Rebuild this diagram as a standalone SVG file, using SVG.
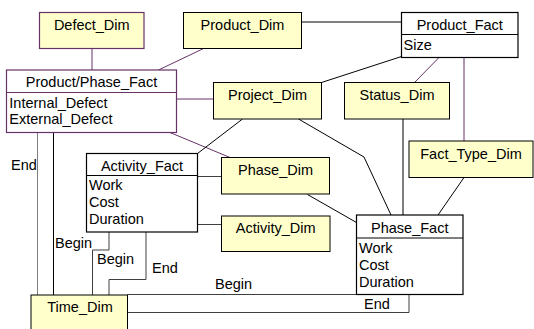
<svg xmlns="http://www.w3.org/2000/svg" width="534" height="329" viewBox="0 0 534 329">
<style>
text{font-family:"Liberation Sans",Arial,sans-serif;font-size:14.5px;fill:#000}
.t{text-anchor:middle}
.dim{fill:#FFFFCC;stroke:#000;stroke-width:1}
.dimp{fill:#FFFFCC;stroke:#663366;stroke-width:1.2}
.fact{fill:#fff;stroke:#000;stroke-width:1.2}
.factp{fill:#fff;stroke:#663366;stroke-width:1.2}
.c{fill:none;stroke:#000;stroke-width:1}
.cg{fill:none;stroke:#808080;stroke-width:1}
.cd{fill:none;stroke:#404040;stroke-width:1}
.cp{fill:none;stroke:#663366;stroke-width:1}
</style>
<rect width="534" height="329" fill="#fff"/>
<g id="connectors">
<line class="cp" x1="92" y1="48.5" x2="92" y2="70"/>
<line class="cp" x1="203.5" y1="48.5" x2="158.5" y2="70"/>
<line class="c" x1="301.5" y1="22" x2="401.5" y2="22"/>
<line class="cp" x1="176.5" y1="99" x2="213.5" y2="99"/>
<line class="cp" x1="170" y1="132.5" x2="230" y2="157.5"/>
<line class="c" x1="242.5" y1="119" x2="197.5" y2="153.5"/>
<line class="c" x1="321.5" y1="82.5" x2="401.5" y2="56.5"/>
<polyline class="c" points="298.5,119 364,157 391,215"/>
<line class="cp" x1="414.5" y1="82.5" x2="439" y2="57.5"/>
<line class="c" x1="403" y1="119" x2="403" y2="215"/>
<line class="cp" x1="464" y1="57.5" x2="464" y2="141"/>
<line class="c" x1="464" y1="177.5" x2="438" y2="215"/>
<line class="cd" x1="197.5" y1="176.5" x2="221.5" y2="176.5"/>
<line class="cd" x1="197.5" y1="224.5" x2="221.5" y2="224.5"/>
<line class="c" x1="307.5" y1="194.5" x2="356.5" y2="222.5"/>
<line class="cg" x1="37.5" y1="132.5" x2="37.5" y2="295"/>
<line class="c" x1="53.5" y1="132.5" x2="53.5" y2="295"/>
<polyline class="cd" points="109,232 109,250 92.5,250 92.5,295"/>
<polyline class="cd" points="146,232 146,279.5 109,279.5 109,295"/>
<line class="cd" x1="127.5" y1="294.5" x2="356.5" y2="294.5"/>
<polyline class="cd" points="127.5,312.5 409,312.5 409,294.5"/>
<text x="11" y="170">End</text>
<text x="55" y="248">Begin</text>
<text x="97" y="264.3">Begin</text>
<text x="152" y="272.7">End</text>
<text x="215" y="288.5">Begin</text>
<text x="364" y="309">End</text>
</g>
<g id="Defect_Dim">
<rect class="dimp" x="39.5" y="12.5" width="104.5" height="36"/>
<text class="t" x="91.75" y="30.3">Defect_Dim</text>
</g>
<g id="Product_Dim">
<rect class="dim" x="183.5" y="12.5" width="118" height="36"/>
<text class="t" x="242.5" y="30.3">Product_Dim</text>
</g>
<g id="Product_Fact">
<rect class="fact" x="401.5" y="12.5" width="116.5" height="45"/>
<line class="c" x1="401.5" y1="34.5" x2="518" y2="34.5"/>
<text class="t" x="459.75" y="29.5">Product_Fact</text>
<text x="403.5" y="49.5">Size</text>
</g>
<g id="Product_Phase_Fact">
<rect class="factp" x="6.5" y="70" width="170" height="62.5"/>
<line class="cp" x1="6.5" y1="92.5" x2="176.5" y2="92.5"/>
<text class="t" x="91.5" y="87.3">Product/Phase_Fact</text>
<text x="9.3" y="108.3">Internal_Defect</text>
<text x="9.3" y="124.3">External_Defect</text>
</g>
<g id="Project_Dim">
<rect class="dim" x="213.5" y="82.5" width="108" height="36.5"/>
<text class="t" x="267.5" y="100">Project_Dim</text>
</g>
<g id="Status_Dim">
<rect class="dim" x="344.5" y="82.5" width="105" height="36.5"/>
<text class="t" x="397" y="100">Status_Dim</text>
</g>
<g id="Fact_Type_Dim">
<rect class="dim" x="409" y="141" width="124" height="36.5"/>
<text class="t" x="471" y="158.5">Fact_Type_Dim</text>
</g>
<g id="Phase_Dim">
<rect class="dim" x="221.5" y="157.5" width="108" height="36.5"/>
<text class="t" x="275.5" y="175">Phase_Dim</text>
</g>
<g id="Activity_Fact">
<rect class="fact" x="86.5" y="153.5" width="111" height="78.5"/>
<line class="c" x1="86.5" y1="175.5" x2="197.5" y2="175.5"/>
<text class="t" x="142" y="170.6">Activity_Fact</text>
<text x="89" y="190">Work</text>
<text x="89" y="207">Cost</text>
<text x="89" y="224">Duration</text>
</g>
<g id="Activity_Dim">
<rect class="dim" x="221.5" y="216" width="108.5" height="35.5"/>
<text class="t" x="275.75" y="233.3">Activity_Dim</text>
</g>
<g id="Phase_Fact">
<rect class="fact" x="356.5" y="215" width="106.5" height="79.5"/>
<line class="c" x1="356.5" y1="238" x2="463" y2="238"/>
<text class="t" x="409.75" y="232.7">Phase_Fact</text>
<text x="359" y="252.7">Work</text>
<text x="359" y="269.7">Cost</text>
<text x="359" y="286.7">Duration</text>
</g>
<g id="Time_Dim">
<rect class="dim" x="31" y="295" width="96.5" height="40"/>
<text class="t" x="80" y="312">Time_Dim</text>
</g>
</svg>
